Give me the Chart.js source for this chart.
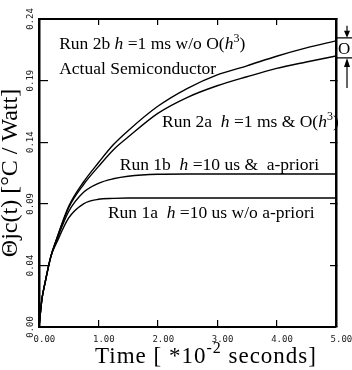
<!DOCTYPE html>
<html>
<head>
<meta charset="utf-8">
<script src="https://cdn.jsdelivr.net/npm/chart.js@4/dist/chart.umd.min.js"></script>
<style>
  html, body { margin: 0; padding: 0; background: #fff; }
</style>
</head>
<body>
<canvas id="chart" width="352" height="370"></canvas>
<script>
// Time axis, in units of 10^-2 s
const times = [0, 0.05, 0.1, 0.2, 0.3, 0.5, 0.75, 1, 1.25, 1.5, 2, 2.5, 3, 3.5, 4, 4.5, 5];

// Thermal impedance curves
const run2b = [0, 0.022, 0.034, 0.055, 0.069, 0.094, 0.113, 0.128, 0.142, 0.153, 0.172, 0.186, 0.1965, 0.2035, 0.211, 0.2175, 0.223];
const run2a = [0, 0.022, 0.034, 0.055, 0.069, 0.093, 0.111, 0.125, 0.138, 0.148, 0.1665, 0.179, 0.188, 0.195, 0.2015, 0.2065, 0.2112];
const run1b = [0, 0.022, 0.034, 0.055, 0.068, 0.090, 0.105, 0.112, 0.1155, 0.1175, 0.119, 0.1192, 0.1192, 0.1192, 0.1192, 0.1192, 0.1192];
const run1a = [0, 0.022, 0.034, 0.055, 0.066, 0.085, 0.096, 0.0995, 0.1002, 0.1005, 0.1005, 0.1005, 0.1005, 0.1005, 0.1005, 0.1005, 0.1005];

// Tick values and their printed labels
const xTickValues = [0, 1, 2, 3, 4, 5];
const yTickValues = [0, 0.048, 0.096, 0.144, 0.192, 0.24];
const yTickLabels = ["0.00", "0.04", "0.09", "0.14", "0.19", "0.24"];

// Curve labels: [t, value] of the text start/baseline, and rich text parts
const curveLabels = [
    { at: [0.34, 0.2165], parts: [["Run 2b "], ["h", "i"], [" =1 ms w/o O("], ["h", "i"], ["3", "sup"], [")"]] },
    { at: [0.34, 0.1975], parts: [["Actual Semiconductor"]] },
    { at: [2.07, 0.1558], parts: [["Run 2a  "], ["h", "i"], [" =1 ms & O("], ["h", "i"], ["3", "sup"], [")"]] },
    { at: [1.36, 0.1223], parts: [["Run 1b  "], ["h", "i"], [" =10 us &  a-priori"]] },
    { at: [1.16, 0.0849], parts: [["Run 1a  "], ["h", "i"], [" =10 us w/o a-priori"]] }
];

const SERIF = '"Liberation Serif", "Times New Roman", serif';

function drawRich(ctx, parts, x, y, size) {
    parts.forEach(([text, style]) => {
        let s = size, dy = 0, it = "";
        if (style === "sup") { s = Math.round(size * 0.68); dy = -size * 0.42; }
        if (style === "i") it = "italic ";
        ctx.font = it + s + "px " + SERIF;
        ctx.fillText(text, x, y + dy);
        x += ctx.measureText(text).width;
    });
}

const decor = {
    id: "decor",
    afterDraw(chart) {
        const ctx = chart.ctx;
        const xs = chart.scales.x, ys = chart.scales.y;
        ctx.save();

        // rotated y tick labels
        ctx.font = '9px "DejaVu Sans Mono", monospace';
        ctx.fillStyle = "#222";
        ctx.textAlign = "center";
        ctx.textBaseline = "middle";
        yTickValues.forEach((v, i) => {
            ctx.save();
            ctx.translate(31, ys.getPixelForValue(v));
            ctx.rotate(-Math.PI / 2);
            ctx.fillText(yTickLabels[i], 0, 0);
            ctx.restore();
        });

        // curve labels
        ctx.fillStyle = "#000";
        ctx.textAlign = "left";
        ctx.textBaseline = "alphabetic";
        curveLabels.forEach(lb => {
            drawRich(ctx, lb.parts, xs.getPixelForValue(lb.at[0]), ys.getPixelForValue(lb.at[1]), 17.5);
        });

        // x axis title with superscript
        ctx.letterSpacing = "1px";
        drawRich(ctx, [["Time [ *10"], ["-2", "sup"], [" seconds]"]], 95, 363, 23);
        ctx.letterSpacing = "0px";

        // O(h^3) gap marker at the right edge
        const yTop = ys.getPixelForValue(run2b[run2b.length - 1]) - 3;
        const yBot = ys.getPixelForValue(run2a[run2a.length - 1]) + 2;
        const ax = 347;
        ctx.strokeStyle = "#000";
        ctx.lineWidth = 1.2;
        ctx.beginPath();
        ctx.moveTo(xs.right, yTop); ctx.lineTo(352, yTop);
        ctx.moveTo(xs.right, yBot); ctx.lineTo(352, yBot);
        ctx.moveTo(ax, yTop - 12); ctx.lineTo(ax, yTop - 4);
        ctx.moveTo(ax, yBot + 8); ctx.lineTo(ax, yBot + 30);
        ctx.stroke();
        ctx.beginPath();
        ctx.moveTo(ax, yTop); ctx.lineTo(ax - 3, yTop - 7); ctx.lineTo(ax + 3, yTop - 7); ctx.closePath();
        ctx.moveTo(ax, yBot); ctx.lineTo(ax - 3, yBot + 9); ctx.lineTo(ax + 3, yBot + 9); ctx.closePath();
        ctx.fill();
        ctx.font = "17px " + SERIF;
        ctx.fillText("O", 338, (yTop + yBot) / 2 + 6);

        ctx.restore();
    }
};

function curve(data) {
    return {
        data: times.map((t, i) => ({ x: t, y: data[i] })),
        borderColor: "#000",
        borderWidth: 1.4,
        pointRadius: 0,
        fill: false,
        tension: 0.4,
        cubicInterpolationMode: "monotone"
    };
}

const axisColor = "#000";

new Chart(document.getElementById("chart"), {
    type: "line",
    data: { datasets: [curve(run2b), curve(run2a), curve(run1b), curve(run1a)] },
    options: {
        responsive: false,
        devicePixelRatio: 1,
        animation: false,
        layout: { padding: 0 },
        plugins: { legend: { display: false }, tooltip: { enabled: false } },
        scales: {
            x: {
                type: "linear", position: "bottom", min: 0, max: 5,
                afterBuildTicks: s => { s.ticks = xTickValues.map(v => ({ value: v })); },
                afterFit: s => { s.height = 43; s.paddingLeft = 0; s.paddingRight = 0; },
                ticks: {
                    callback: v => "  " + v.toFixed(2),
                    font: { family: "DejaVu Sans Mono", size: 9 },
                    color: "#222", padding: 14, maxRotation: 0
                },
                grid: { drawOnChartArea: false, tickLength: -7, color: axisColor, lineWidth: 1.2 },
                border: { color: axisColor, width: 2 }
            },
            x2: {
                type: "linear", position: "top", min: 0, max: 5,
                afterBuildTicks: s => { s.ticks = xTickValues.map(v => ({ value: v })); },
                afterFit: s => { s.height = 19; s.paddingLeft = 0; s.paddingRight = 0; },
                ticks: { display: false },
                grid: { drawOnChartArea: false, tickLength: -6, color: axisColor, lineWidth: 1.2 },
                border: { color: axisColor, width: 2 }
            },
            y: {
                type: "linear", position: "left", min: 0, max: 0.24,
                afterBuildTicks: s => { s.ticks = yTickValues.map(v => ({ value: v })); },
                afterFit: s => { s.width = 39; s.paddingTop = 0; s.paddingBottom = 0; },
                ticks: { display: false },
                grid: { drawOnChartArea: false, tickLength: -9, color: axisColor, lineWidth: 1.2 },
                border: { color: axisColor, width: 2.5 },
                title: {
                    display: true,
                    text: "Θjc(t) [°C / Watt]",
                    font: { family: "Liberation Serif", size: 24 },
                    color: "#000",
                    padding: { top: -4, bottom: 0 }
                }
            },
            y2: {
                type: "linear", position: "right", min: 0, max: 0.24,
                afterBuildTicks: s => { s.ticks = yTickValues.map(v => ({ value: v })); },
                afterFit: s => { s.width = 16; s.paddingTop = 0; s.paddingBottom = 0; },
                ticks: { display: false },
                grid: { drawOnChartArea: false, tickLength: -6, color: axisColor, lineWidth: 1.2 },
                border: { color: axisColor, width: 2.5 }
            }
        }
    },
    plugins: [decor]
});
</script>
</body>
</html>
